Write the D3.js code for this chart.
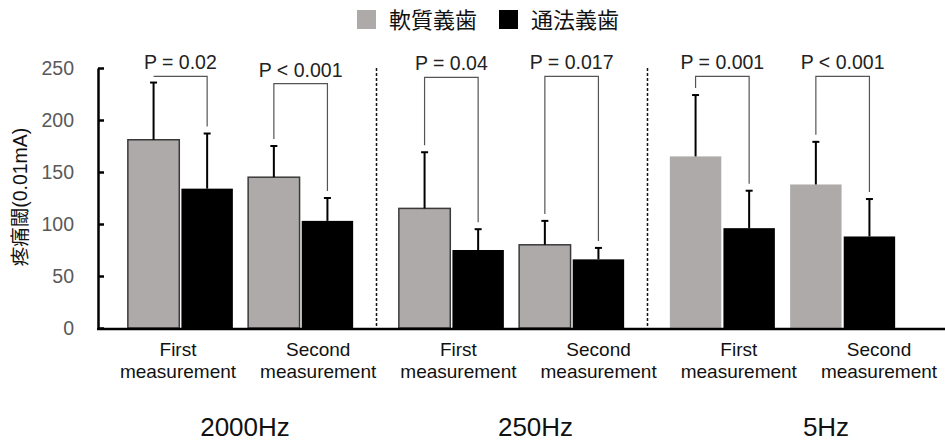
<!DOCTYPE html>
<html>
<head>
<meta charset="utf-8">
<script src="https://cdn.jsdelivr.net/npm/d3@7"></script>
<style>
  body { margin: 0; background: #fff; }
  text { font-family: "Liberation Sans", Arial, "Noto Sans CJK JP", sans-serif; }
</style>
</head>
<body>
<svg id="chart"></svg>
<script>
var groups = ["2000Hz", "250Hz", "5Hz"];
var measures = ["First measurement", "Second measurement"];
var series = ["軟質義歯", "通法義歯"];

// one entry per group x measurement, in order
var softMean = [181, 145, 115, 80, 165, 138];
var softSd   = [55, 30, 54, 23, 59, 41];
var convMean = [134, 103, 75, 66, 96, 88];
var convSd   = [53, 22, 20, 11, 36, 36];
var pLabels  = ["P = 0.02", "P < 0.001", "P = 0.04", "P = 0.017", "P = 0.001", "P < 0.001"];
var bracketLevel = [242, 235, 241, 242, 242, 242];
var yTicks = [0, 50, 100, 150, 200, 250];

var width = 945, height = 444;
var grey = "#aeaaaa";

var chart = d3.select("#chart")
    .attr("width", width)
    .attr("height", height);

var y = d3.scaleLinear().domain([0, 250]).range([328, 68]);

var x0 = d3.scaleBand().domain(groups).range([105, 918]);
var x1 = d3.scaleBand().domain(measures)
    .range([0, x0.bandwidth()])
    .paddingInner(0.127)
    .paddingOuter(0.19);
var xs = d3.scaleBand().domain(series)
    .range([0, x1.bandwidth()])
    .paddingInner(0.04);
var z = d3.scaleOrdinal().domain(series).range([grey, "#000"]);

var rows = softMean.map(function(d, i) {
  return {
    id: i,
    group: groups[Math.floor(i / 2)],
    gi: Math.floor(i / 2),
    measure: measures[i % 2],
    vals: [
      {key: series[0], mean: softMean[i], sd: softSd[i]},
      {key: series[1], mean: convMean[i], sd: convSd[i]}
    ],
    p: pLabels[i],
    level: bracketLevel[i]
  };
});

// category labels sit on their own, slightly wider, spacing
var xl = d3.scalePoint().domain(rows.map(function(d) { return d.id; })).range([178, 879]);

function pairX(d) { return x0(d.group) + x1(d.measure); }
function barCx(d, k) { return pairX(d) + xs(k) + xs.bandwidth() / 2; }

// dashed separators between frequency groups
chart.append("g")
  .selectAll("line")
  .data(groups.slice(1))
  .enter().append("line")
    .attr("x1", function(d) { return Math.round(x0(d)) + 0.5; })
    .attr("x2", function(d) { return Math.round(x0(d)) + 0.5; })
    .attr("y1", y(250))
    .attr("y2", y(0))
    .attr("stroke", "#111")
    .attr("stroke-width", 1.5)
    .attr("stroke-dasharray", "3,2");

// bars
var pair = chart.append("g")
  .selectAll("g")
  .data(rows)
  .enter().append("g")
    .attr("transform", function(d) { return "translate(" + pairX(d) + ",0)"; });

pair.selectAll("rect")
  .data(function(d) { return d.vals.map(function(v) { v.gi = d.gi; return v; }); })
  .enter().append("rect")
    .attr("x", function(d) { return xs(d.key); })
    .attr("y", function(d) { return y(d.mean); })
    .attr("width", xs.bandwidth())
    .attr("height", function(d) { return y(0) - y(d.mean); })
    .attr("fill", function(d) { return z(d.key); })
    .attr("stroke", function(d) { return (d.key === series[0] && d.gi < 2) ? "#3a3a3a" : "none"; })
    .attr("stroke-width", 1.5);

// error bars
var err = pair.selectAll(".err")
  .data(function(d) { return d.vals; })
  .enter().append("g")
    .attr("class", "err")
    .attr("transform", function(d) { return "translate(" + (xs(d.key) + xs.bandwidth() / 2) + ",0)"; })
    .attr("stroke", "#000")
    .attr("stroke-width", 2);

err.append("line")
    .attr("y1", function(d) { return y(d.mean); })
    .attr("y2", function(d) { return y(d.mean + d.sd); });

err.append("line")
    .attr("x1", -3.5)
    .attr("x2", 3.5)
    .attr("y1", function(d) { return y(d.mean + d.sd); })
    .attr("y2", function(d) { return y(d.mean + d.sd); });

// significance brackets
chart.append("g")
  .selectAll("path")
  .data(rows)
  .enter().append("path")
    .attr("fill", "none")
    .attr("stroke", "#555")
    .attr("stroke-width", 1.2)
    .attr("d", function(d) {
      var top = y(d.level),
          lx = barCx(d, series[0]),
          rx = barCx(d, series[1]),
          ly = Math.max(top, y(d.vals[0].mean + d.vals[0].sd) - 7),
          ry = Math.max(top, y(d.vals[1].mean + d.vals[1].sd) - 7);
      return "M" + lx + "," + ly + "V" + top + "H" + rx + "V" + ry;
    });

chart.append("g")
  .selectAll("text")
  .data(rows)
  .enter().append("text")
    .attr("x", function(d) { return pairX(d) + x1.bandwidth() / 2; })
    .attr("y", function(d) { return y(d.level) - 7; })
    .attr("text-anchor", "middle")
    .attr("font-size", 19.5)
    .attr("fill", "#222")
    .text(function(d) { return d.p; });

// y axis
var yAxis = chart.append("g")
    .attr("transform", "translate(98,0)")
    .call(d3.axisLeft(y).tickValues(yTicks).tickSizeInner(-6).tickSizeOuter(0).tickPadding(24));
yAxis.select(".domain").attr("stroke", "#000").attr("stroke-width", 2.5);
yAxis.selectAll(".tick line").attr("stroke", "#000").attr("stroke-width", 2.5);
yAxis.selectAll(".tick text")
    .attr("font-size", 19.5)
    .attr("font-family", "Liberation Sans, Arial, sans-serif")
    .attr("fill", "#595959");

// x axis baseline
chart.append("line")
    .attr("x1", 97)
    .attr("x2", width)
    .attr("y1", y(0) + 1)
    .attr("y2", y(0) + 1)
    .attr("stroke", "#000")
    .attr("stroke-width", 2.5);

// category labels
var lab = chart.append("g")
  .selectAll("text")
  .data(rows)
  .enter().append("text")
    .attr("text-anchor", "middle")
    .attr("font-size", 19)
    .attr("fill", "#111");
lab.append("tspan")
    .attr("x", function(d) { return xl(d.id); })
    .attr("y", 356)
    .text(function(d) { return d.measure.split(" ")[0]; });
lab.append("tspan")
    .attr("x", function(d) { return xl(d.id); })
    .attr("y", 378)
    .text(function(d) { return d.measure.split(" ")[1]; });

// frequency labels
var xf = d3.scalePoint().domain(groups).range([245, 826]);
chart.append("g")
  .selectAll("text")
  .data(groups)
  .enter().append("text")
    .attr("x", function(d) { return xf(d); })
    .attr("y", 436)
    .attr("text-anchor", "middle")
    .attr("font-size", 26)
    .attr("fill", "#111")
    .text(function(d) { return d; });

// y title
chart.append("text")
    .attr("transform", "translate(27,197) rotate(-90)")
    .attr("text-anchor", "middle")
    .attr("font-size", 19.5)
    .attr("fill", "#111")
    .text("疼痛閾(0.01mA)");

// legend
var legend = chart.append("g")
  .selectAll("g")
  .data(series)
  .enter().append("g")
    .attr("transform", function(d, i) { return "translate(" + (357 + i * 142) + ",10)"; });

legend.append("rect")
    .attr("width", 19)
    .attr("height", 19)
    .attr("fill", z);

legend.append("text")
    .attr("x", 32)
    .attr("y", 10)
    .attr("dy", "0.35em")
    .attr("font-size", 22)
    .attr("font-family", "Noto Sans CJK JP, sans-serif")
    .attr("fill", "#111")
    .text(function(d) { return d; });
</script>
</body>
</html>
